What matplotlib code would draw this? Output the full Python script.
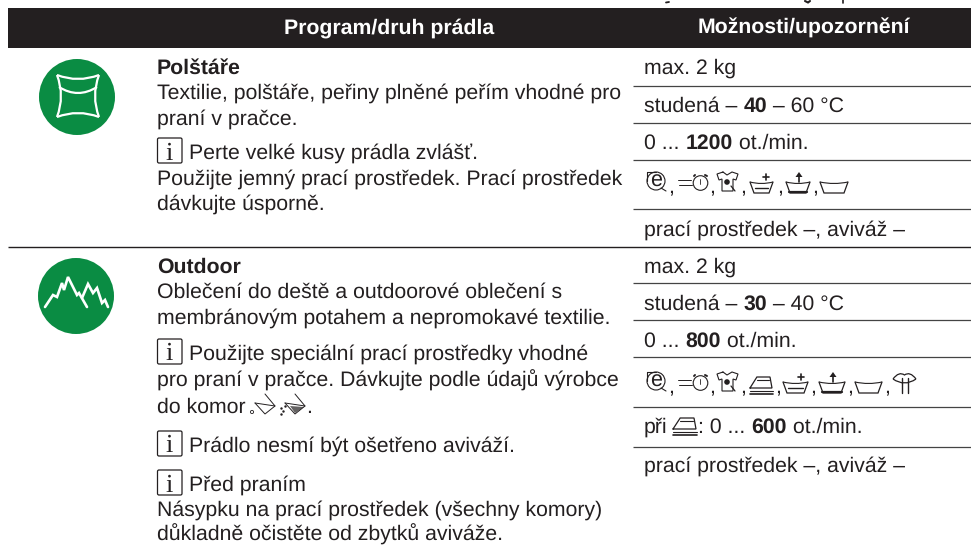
import matplotlib
matplotlib.use("Agg")
import matplotlib.pyplot as plt
from matplotlib.patches import Circle, FancyBboxPatch, PathPatch, Rectangle
from matplotlib.path import Path

plt.rcParams["font.family"] = ["Liberation Sans", "DejaVu Sans"]
plt.rcParams["text.hinting"] = "none"

INK = "#231f20"
GREEN = "#0a8c43"
FS = 15.35

# hlavicka tabulky
headers = ["Program/druh prádla", "Možnosti/upozornění"]

# levy sloupec: (text, baseline)
left_bold = [("Polštáře", 74), ("Outdoor", 273)]
left_text = [
    ("Textilie, polštáře, peřiny plněné peřím vhodné pro", 99),
    ("praní v pračce.", 125),
    ("Použijte jemný prací prostředek. Prací prostředek", 185),
    ("dávkujte úsporně.", 210),
    ("Oblečení do deště a outdoorové oblečení s", 298),
    ("membránovým potahem a nepromokavé textilie.", 324),
    ("pro praní v pračce. Dávkujte podle údajů výrobce", 387),
    ("do komor", 413),
    ("Násypku na prací prostředek (všechny komory)", 516),
    ("důkladně očistěte od zbytků aviváže.", 541),
]
info_text = [
    ("Perte velké kusy prádla zvlášť.", 159),
    ("Použijte speciální prací prostředky vhodné", 360),
    ("Prádlo nesmí být ošetřeno aviváží.", 452),
    ("Před praním", 491),
]

# pravy sloupec: seznam useku (text, tucne)
right_rows = [
    ([("max. 2 kg", False)], 74),
    ([("studená – ", False), ("40", True), (" – 60 °C", False)], 112),
    ([("0 ... ", False), ("1200", True), (" ot./min.", False)], 149),
    ([("prací prostředek –, aviváž –", False)], 236),
    ([("max. 2 kg", False)], 273),
    ([("studená – ", False), ("30", True), (" – 40 °C", False)], 310),
    ([("0 ... ", False), ("800", True), (" ot./min.", False)], 347),
    ([("prací prostředek –, aviváž –", False)], 472),
]
rules_right = [86, 123, 160, 209, 283, 320, 357, 407, 447]
rule_full = 246.5

fig = plt.figure(figsize=(9.71, 5.46), dpi=100)
ax = fig.add_axes([0, 0, 1, 1])
ax.set_xlim(0, 971)
ax.set_ylim(546, 0)
ax.axis("off")
renderer = fig.canvas.get_renderer()


def ln(pts, lw=0.9, c=INK):
    ax.plot([p[0] for p in pts], [p[1] for p in pts], color=c, lw=lw,
            solid_capstyle="round", solid_joinstyle="miter")


def curve(verts, lw=0.9, c=INK):
    codes = [Path.MOVETO] + [Path.CURVE3] * (len(verts) - 1)
    ax.add_patch(PathPatch(Path(verts, codes), fc="none", ec=c, lw=lw))


def segments(x, y, parts):
    for s, bold in parts:
        t = ax.text(x, y, s, fontsize=FS, color=INK, va="baseline",
                    fontweight="bold" if bold else "normal")
        x += t.get_window_extent(renderer).width
    return x


def info_box(y):
    ax.add_patch(FancyBboxPatch((157.5, y - 21), 24.5, 25, boxstyle="round,pad=0,rounding_size=1.5",
                                fc="white", ec=INK, lw=0.9))
    ax.text(169.5, y + 0.5, "i", family="Liberation Serif", fontsize=19, color=INK,
            ha="center", va="baseline")


def leaf(y):
    ax.add_patch(Circle((656, y + 16), 9, fc="none", ec=INK, lw=0.8))
    ax.text(656, y + 21.5, "e", fontsize=15.5, ha="center", va="baseline", color=INK)
    ln([(647, y + 7), (656, y + 7)], 0.8)
    ln([(647, y + 7), (647, y + 16)], 0.8)
    ln([(661, y + 23), (666, y + 26)], 0.8)


def clock(y):
    ax.add_patch(Circle((700.5, y + 18), 7.3, fc="none", ec=INK, lw=0.8))
    ln([(678, y + 15), (691, y + 15)], 0.7)
    ln([(679, y + 20), (692, y + 20)], 0.7)
    ln([(700, y + 14), (700, y + 19)], 0.6)
    ln([(694, y + 11), (695, y + 10)], 1.4)
    ln([(705, y + 10), (707, y + 11)], 1.4)


def shirt(y):
    ln([(723, y + 7), (717, y + 9), (719, y + 15), (722, y + 14), (722, y + 26),
        (733, y + 26), (733, y + 14), (736, y + 15), (738, y + 9), (732, y + 7),
        (727, y + 10), (723, y + 7)], 0.8)
    ax.add_patch(Circle((727, y + 17), 2.8, fc=INK, ec="none"))
    ln([(731, y + 21), (735, y + 26)], 0.9)


def tub(x0, x1, y, water=False):
    top, bot = y + 17, y + 28
    ln([(x0, top), (x0 + 4, bot), (x1 - 4, bot), (x1, top)], 0.9)
    curve([(x0, top), ((x0 + x1) / 2, top + 3), (x1, top)], 0.8)
    if water:
        ln([(x0 + 5, top + 6), (x1 - 5, top + 6)], 1.0)


def tub_plus(x0, x1, y):
    tub(x0, x1, y, True)
    xc = x1 - 7
    ln([(xc - 3, y + 12), (xc + 3, y + 12)], 1.2)
    ln([(xc, y + 9), (xc, y + 15)], 1.2)


def tub_up(x0, x1, y):
    tub(x0, x1, y)
    xc = (x0 + x1) / 2 + 1
    ln([(xc, y + 17), (xc, y + 10)], 1.2)
    ax.fill([xc - 3.5, xc + 3.5, xc], [y + 12, y + 12, y + 7], color=INK, lw=0)
    ln([(x0 + 3, y + 27), (x1 - 3, y + 27)], 1.6)


def iron(x0, x1, y):
    w = x1 - x0
    ln([(x0, y + 12), (x0 + w * 0.3, y + 1), (x1 - 3, y + 1), (x1 - 1, y + 12), (x0, y + 12)], 0.9)
    ln([(x0 + w * 0.3, y + 4), (x1 - 4, y + 4)], 0.8)
    ln([(x0, y + 15), (x1, y + 15)], 0.8)
    ln([(x0, y + 18), (x1, y + 18)], 1.2)


def lips(x0, x1, y):
    xc = (x0 + x1) / 2
    curve([(x0, y + 14), (x0 + 6, y + 6), (xc, y + 10), (x1 - 6, y + 6), (x1, y + 14)], 0.9)
    curve([(x0, y + 14), (xc, y + 22), (x1, y + 14)], 0.9)
    ln([(xc - 3, y + 13), (xc - 3, y + 28)], 1.0)
    ln([(xc + 3, y + 13), (xc + 3, y + 28)], 1.0)


def comma(x, y):
    ax.text(x, y, ",", fontsize=FS, color=INK, ha="center", va="baseline")


def chamber(x0, y, fill=False):
    ln([(x0 + 5, y + 10), (x0 + 15, y + 21), (x0 + 25, y + 13), (x0 + 15, y + 1)], 0.7)
    ln([(x0 + 5, y + 10), (x0 + 25, y + 13)], 0.7)
    if fill:
        ax.fill([x0 + 10, x0 + 24, x0 + 15], [y + 13, y + 14, y + 20], color=INK, alpha=0.7, lw=0)
        ax.plot([x0 + 1, x0 + 3, x0 + 1, x0 + 5], [y + 15, y + 18, y + 21, y + 13], ".", ms=1.5, color=INK)
    else:
        ax.add_patch(Circle((x0 + 2, y + 19), 1.6, fc="none", ec=INK, lw=0.6))


# oriznuty text nad hlavickou
ln([(666, 2.5), (669, 2)], 1.3)
ln([(805, 1), (808, 2.5), (810, 1)], 1.5)
ln([(843, 0), (843, 2.5)], 1.2)

# hlavicka
ax.add_patch(Rectangle((7.5, 8), 964, 39.5, fc=INK, ec="none"))
ax.text(389, 34, headers[0], fontsize=FS, fontweight="bold", color="white", ha="center", va="baseline")
ax.text(804, 34, headers[1], fontsize=FS, fontweight="bold", color="white", ha="center", va="baseline")

# linky
for y in rules_right:
    ax.plot([633, 971], [y, y], color="#444444", lw=0.9, solid_capstyle="butt")
ax.plot([7.5, 971], [rule_full, rule_full], color=INK, lw=1, solid_capstyle="butt")

# levy sloupec
for s, y in left_bold:
    ax.text(157, y, s, fontsize=FS, fontweight="bold", color=INK, va="baseline")
for s, y in left_text:
    ax.text(157, y, s, fontsize=FS, color=INK, va="baseline")
for s, y in info_text:
    info_box(y)
    ax.text(189, y, s, fontsize=FS, color=INK, va="baseline")

# pravy sloupec
for parts, y in right_rows:
    segments(644, y, parts)
segments(644, 433, [("při", False)])
iron(673, 697, 417)
segments(698, 433, [(": 0 ... ", False), ("600", True), (" ot./min.", False)])

# zelene ikony
ax.add_patch(Circle((77, 97), 38, fc=GREEN, ec="none"))
ax.add_patch(Circle((76, 296), 38, fc=GREEN, ec="none"))
for v in [[(57, 75), (78, 83), (99, 75)], [(99, 75), (91, 96), (99, 117)],
          [(99, 117), (78, 109), (57, 117)], [(57, 117), (65, 96), (57, 75)],
          [(59, 87), (78, 99), (97, 87)]]:
    curve(v, 1.6, "white")
ln([(45, 307), (53, 295), (57, 297), (62, 283), (64, 290), (68, 277), (77, 295), (79, 293),
    (87, 307)], 1.9, "white")
ln([(82, 298), (88, 284), (93, 293), (97, 288), (102, 303), (105, 300), (108, 307)], 1.9, "white")

# radky s ikonami programu
for base in [165, 365]:
    leaf(base)
    comma(671, base + 27)
    clock(base)
    comma(712, base + 27)
    shirt(base)
    comma(743, base + 27)
tub_plus(750, 773, 165)
comma(780, 192)
tub_up(786, 810, 165)
comma(815, 192)
tub(820, 848, 165)

iron(750, 773, 376)
comma(778, 392)
tub_plus(783, 808, 365)
comma(813, 392)
tub_up(819, 845, 365)
comma(850, 392)
tub(855, 882, 365)
comma(887, 392)
lips(893, 916, 365)

chamber(250, 393)
chamber(280, 393, True)
ax.text(306, 413, ".", fontsize=FS, color=INK, va="baseline")

fig.savefig("out.png", dpi=100)
